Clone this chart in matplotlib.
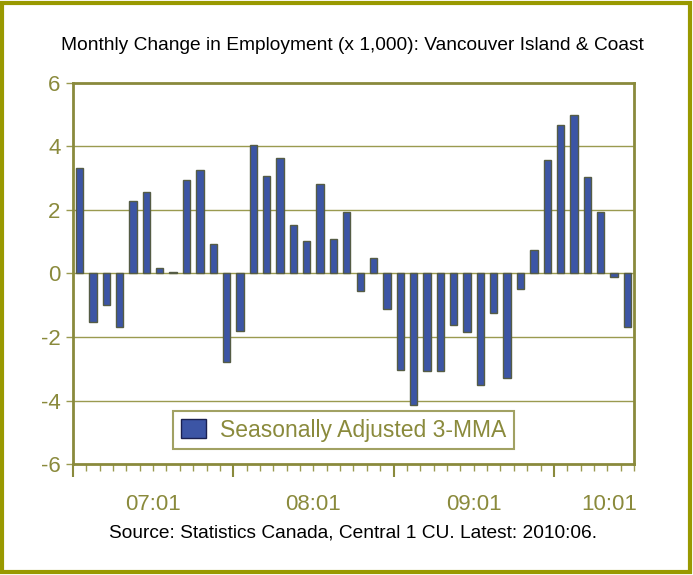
import matplotlib
matplotlib.use('Agg')
import matplotlib.pyplot as plt
from matplotlib.patches import Rectangle

# monthly change in employment (x1,000), seasonally adjusted 3-MMA, 2007:01 - 2010:06
MONTHS = [f'{y % 100:02d}:{m:02d}' for y in range(2007, 2011) for m in range(1, 13)][:42]
VALUES = [3.32, -1.53, -0.99, -1.68, 2.28, 2.58, 0.17, 0.05, 2.94, 3.27, 0.92, -2.80,
          -1.80, 4.04, 3.07, 3.64, 1.54, 1.02, 2.81, 1.08, 1.93, -0.55, 0.48, -1.11,
          -3.03, -4.13, -3.06, -3.07, -1.62, -1.84, -3.50, -1.24, -3.28, -0.48, 0.73, 3.59,
          4.67, 5.00, 3.04, 1.94, -0.10, -1.68]
YTICKS = [-6, -4, -2, 0, 2, 4, 6]

OLIVE = '#8a8a3c'
GRID = '#9a9a50'
FRAME = '#999900'
BAR = '#3c55a5'
BAR_EDGE = '#555c45'

plt.rcParams['font.family'] = ['Liberation Sans', 'DejaVu Sans']

fig = plt.figure(figsize=(6.93, 5.75), dpi=100)
ax = fig.add_axes([0.1053, 0.193, 0.8096, 0.6627])

n = len(VALUES)
xs = list(range(n))
ax.bar(xs, VALUES, width=0.55, color=BAR, edgecolor=BAR_EDGE, lw=1.0, zorder=3,
       label='Seasonally Adjusted 3-MMA')

ax.set_xlim(-0.5, n - 0.5)
ax.set_ylim(-6, 6)
ax.set_yticks(YTICKS)
ax.set_yticklabels([str(v) for v in YTICKS], fontsize=16, color=OLIVE)
for v in YTICKS[1:-1]:
    ax.axhline(v, color=GRID, lw=1.0, zorder=1)

for s in ax.spines.values():
    s.set_color(OLIVE)
    s.set_linewidth(2)

# x axis: monthly minor ticks, yearly major ticks, year labels centred in each block
jan = [i for i, m in enumerate(MONTHS) if m.endswith(':01')]
ax.set_xticks([j - 0.5 for j in jan])
ax.set_xticks([i - 0.5 for i in range(n + 1)], minor=True)
ax.set_xticklabels([])
ax.tick_params(axis='x', which='major', length=9, width=1.5, color=OLIVE)
ax.tick_params(axis='x', which='minor', length=5, width=1.0, color=GRID)
ax.tick_params(axis='y', length=5, width=1.0, color=GRID, pad=4)
for k, j in enumerate(jan):
    if k < len(jan) - 1:
        ax.text(j + 5.5, -6.95, MONTHS[j], ha='center', va='top', fontsize=16, color=OLIVE)
    else:
        ax.text(n - 0.3, -6.95, MONTHS[j], ha='right', va='top', fontsize=16, color=OLIVE)

leg = ax.legend(loc='lower center', bbox_to_anchor=(0.482, 0.039), fontsize=16.5,
                frameon=True, fancybox=False, borderpad=0.33, handlelength=1.1,
                handleheight=0.9, handletextpad=0.6, borderaxespad=0)
leg.get_frame().set_edgecolor(OLIVE)
leg.get_frame().set_linewidth(1.5)
for t in leg.get_texts():
    t.set_color(OLIVE)
for h in leg.legend_handles:
    h.set_edgecolor('#1a2050')

fig.text(0.509, 0.921, 'Monthly Change in Employment (x 1,000): Vancouver Island & Coast',
         ha='center', va='center', fontsize=13.8, color='black')
fig.text(0.509, 0.073, 'Source: Statistics Canada, Central 1 CU. Latest: 2010:06.',
         ha='center', va='center', fontsize=13.8, color='black')

fig.patches.append(Rectangle((0.003, 0.005), 0.992, 0.99, transform=fig.transFigure,
                             fill=False, edgecolor=FRAME, lw=3))

fig.savefig('out.png', dpi=100)
